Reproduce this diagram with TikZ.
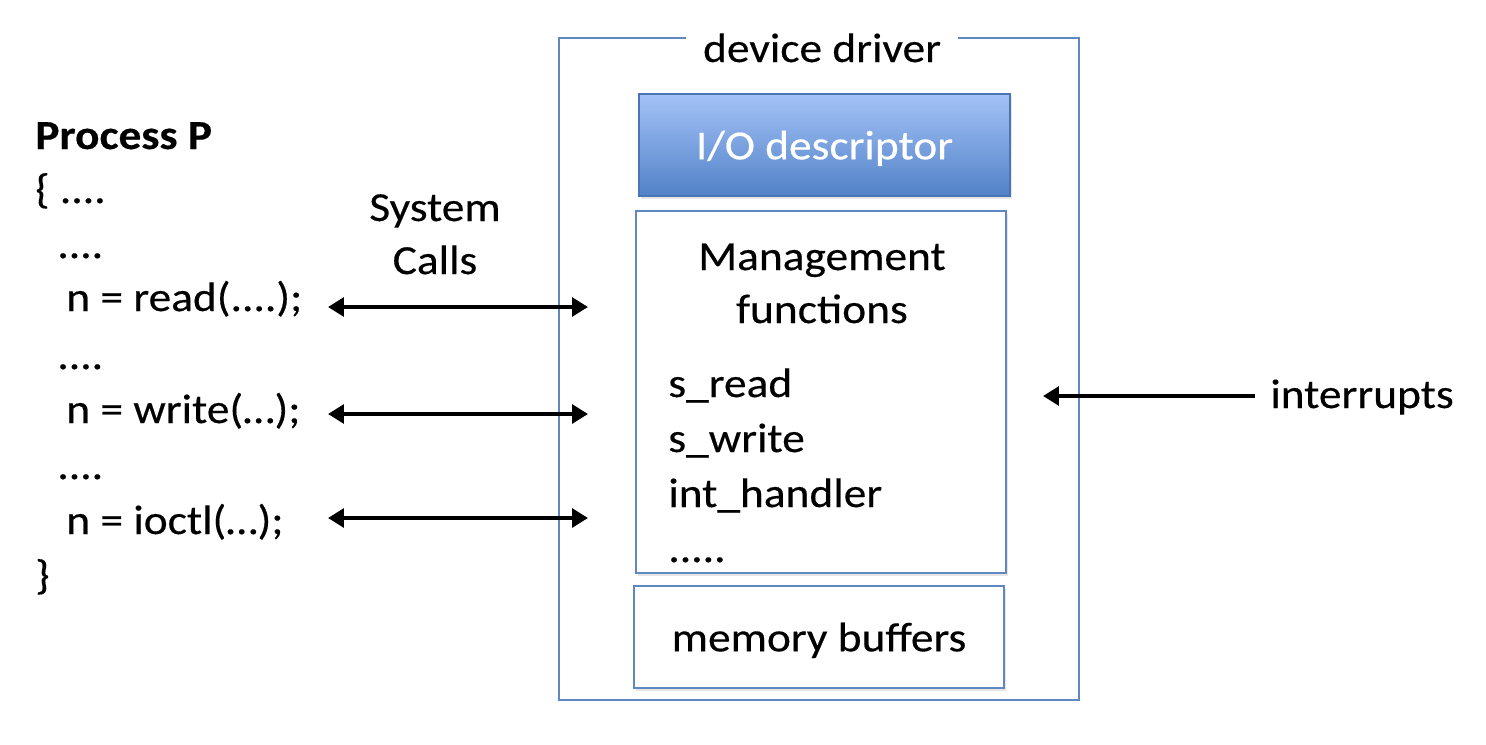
\documentclass[tikz,border=0pt]{standalone}
\usepackage{fontspec}
\setmainfont{Carlito}[FakeStretch=1.1, FakeBold=0.35]
\usetikzlibrary{arrows.meta,shadows}

\definecolor{drvblue}{HTML}{5F88C2}
\definecolor{descTop}{HTML}{A3C2F7}
\definecolor{descBottom}{HTML}{5282C8}

\tikzset{
  drv frame/.style={rectangle, draw=drvblue, line width=1.1pt, inner sep=0pt},
  drv part/.style={rectangle, draw=drvblue, line width=1.1pt, fill=white, inner sep=0pt, text depth=0pt,
    font=\fontsize{23.5}{31}\selectfont, drop shadow={opacity=0.2, shadow xshift=1pt, shadow yshift=-1.5pt}},
  drv desc/.style={drv part, top color=descTop, bottom color=descBottom, draw=descBottom!90!black, text=white},
  drv text/.style={font=\fontsize{23.5}{31}\selectfont, inner sep=0pt, anchor=base west},
  drv label/.style={font=\fontsize{23.5}{31}\selectfont, inner sep=0pt, anchor=base},
  drv call/.style={{Triangle[length=9pt,width=10.5pt]}-{Triangle[length=9pt,width=10.5pt]}, line width=2.6pt},
  drv irq/.style={-{Triangle[length=9pt,width=10.5pt]}, line width=2.6pt},
}

\begin{document}
\begin{tikzpicture}[x=0.02cm, y=-0.02cm]
  \useasboundingbox (0,0) rectangle (1486,744);

  % process side
  \node (proc) [drv text, font=\fontsize{23.5}{31}\selectfont\bfseries] at (35,149) {Process P};
  \node (open) [drv text] at (35,203) {\{ ....};
  \node (dots1) [drv text] at (57,258) {....};
  \node (read) [drv text] at (66,311) {n = read(....);};
  \node (dots2) [drv text] at (57,369) {....};
  \node (write) [drv text] at (66,423) {n = write(…);};
  \node (dots3) [drv text] at (57,479) {....};
  \node (ioctl) [drv text] at (66,534) {n = ioctl(…);};
  \node (close) [drv text] at (35,589) {\}};

  \node (sys) [drv label] at (435,221) {System};
  \node (calls) [drv label] at (435,274) {Calls};

  % device driver
  \node (driver) [drv frame, minimum width=10.4cm, minimum height=13.24cm] at (819,369) {};
  \node (drvtitle) [drv label, fill=white, inner xsep=9.5pt, inner ysep=4pt] at (822,62) {device driver};

  \node (desc) [drv desc, minimum width=7.42cm, minimum height=2.04cm] at (824.5,145) {I/O descriptor};
  \node (mgmt) [drv part, minimum width=7.4cm, minimum height=7.24cm] at (821,392) {};
  \node (mem) [drv part, minimum width=7.4cm, minimum height=2.04cm] at (819,637) {memory buffers};

  \node (mgmttitle) [drv label] at (822,270) {Management};
  \node (mgmtfun) [drv label] at (822,323) {functions};
  \node (sread) [drv text] at (668,397) {s\_read};
  \node (swrite) [drv text] at (668,452) {s\_write};
  \node (inth) [drv text] at (668,507) {int\_handler};
  \node (more) [drv text] at (668,562) {.....};

  \node (irq) [drv text] at (1270,408) {interrupts};

  % connectors
  \coordinate (readL) at (328,307);  \coordinate (readR) at (588,307);
  \coordinate (writeL) at (328,414); \coordinate (writeR) at (588,414);
  \coordinate (ioctlL) at (328,518); \coordinate (ioctlR) at (588,518);
  \coordinate (irqR) at (1255,396);  \coordinate (irqL) at (1043,396);

  \draw[drv call] (readL) -- (readR);
  \draw[drv call] (writeL) -- (writeR);
  \draw[drv call] (ioctlL) -- (ioctlR);
  \draw[drv irq] (irqR) -- (irqL);
\end{tikzpicture}
\end{document}
